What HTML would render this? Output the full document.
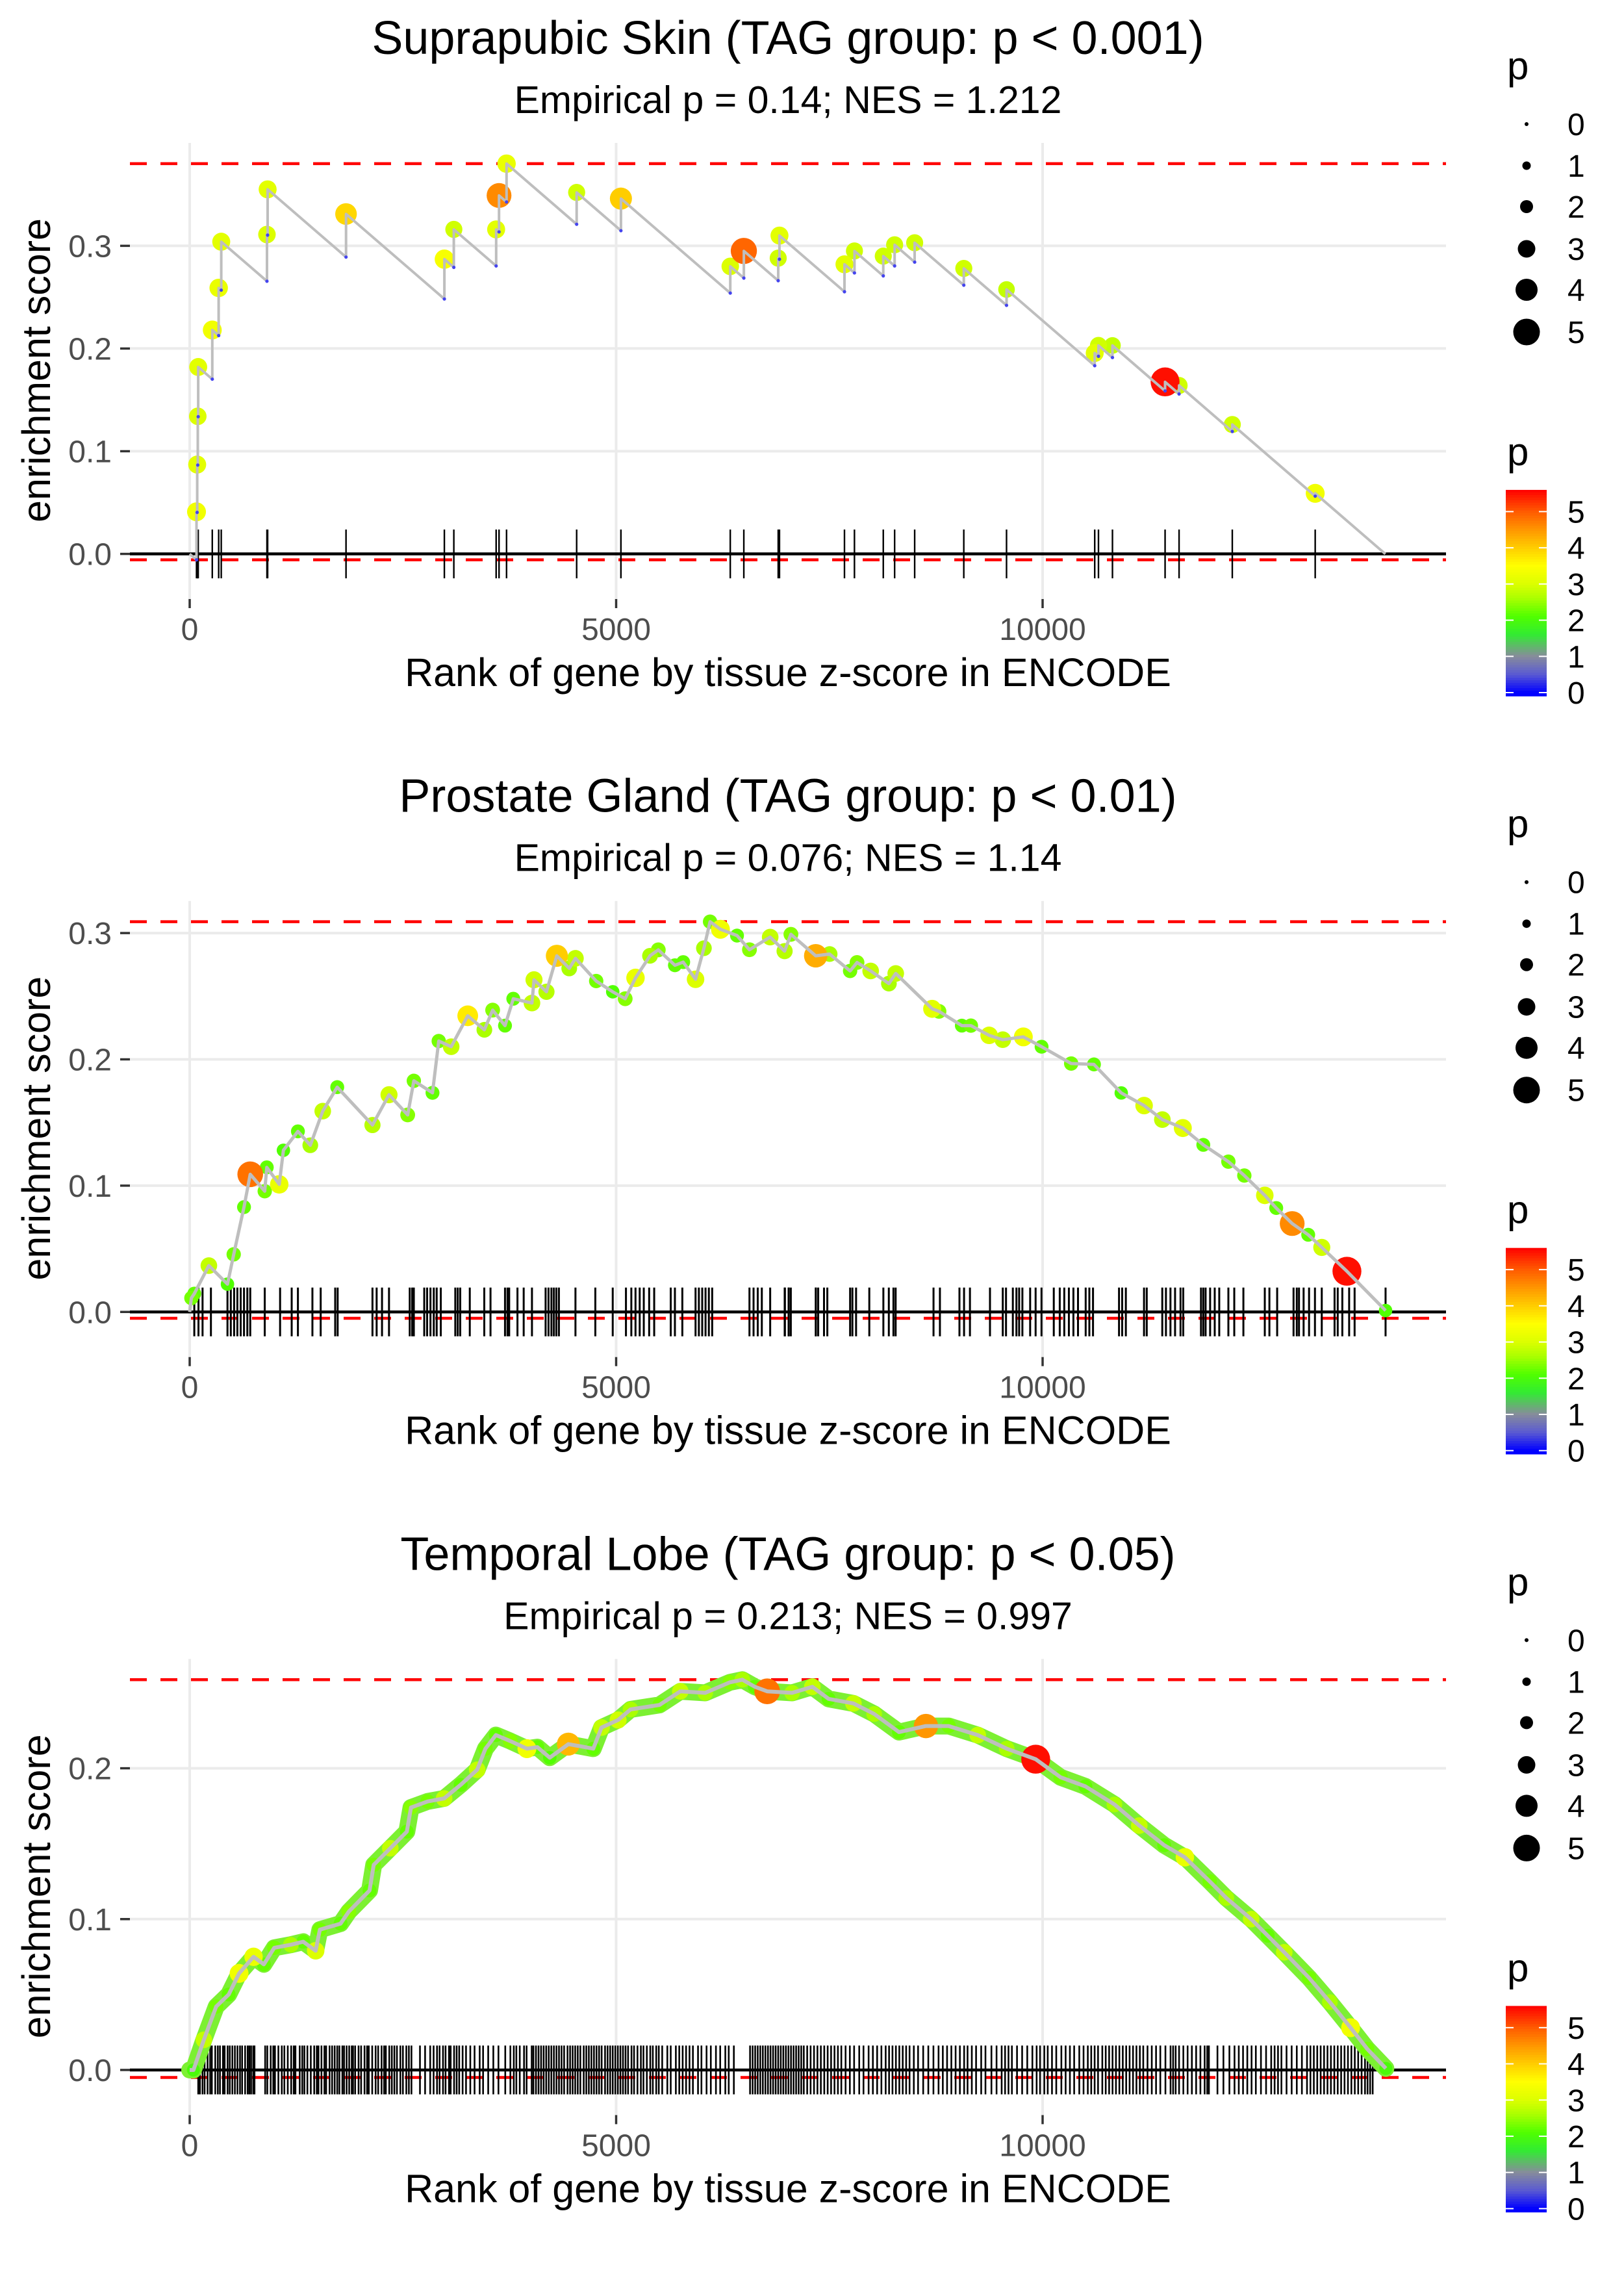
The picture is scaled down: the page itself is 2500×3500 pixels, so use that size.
<!DOCTYPE html>
<html>
<head>
<meta charset="utf-8">
<style>
html,body{margin:0;padding:0;background:#fff;}
svg{display:block;}
text{font-family:"Liberation Sans",Arial,sans-serif;}
</style>
</head>
<body>
<svg id="chart" xmlns="http://www.w3.org/2000/svg" width="2500" height="3500" viewBox="0 0 2500 3500"></svg>
<script>
// ---------- Panel 1: Suprapubic Skin ----------
const p1Rank = [80,88,95,100,265,340,370,906,914,1833,2986,3097,3593,3627,3715,4537,5056,6338,6497,6900,6915,7677,7794,8132,8265,8500,9076,9577,10611,10655,10819,11436,11600,12224,13196];
const p1ES = [0.041,0.087,0.134,0.182,0.218,0.259,0.304,0.311,0.355,0.331,0.287,0.316,0.316,0.349,0.380,0.352,0.346,0.280,0.295,0.288,0.310,0.282,0.295,0.290,0.301,0.303,0.278,0.2575,0.1956,0.203,0.203,0.1675,0.164,0.126,0.059];
const p1P = [3.3,3.1,3.0,3.1,3.3,3.2,3.1,3.0,3.1,3.9,3.4,2.9,3.1,4.6,3.2,2.9,4.0,3.0,4.9,2.9,3.1,3.1,2.9,2.9,2.9,2.9,2.9,2.8,3.1,2.9,2.8,5.5,2.9,2.9,3.3];
const p1End = 14018;

// ---------- Panel 2: Prostate Gland ----------
const p2Rank = [20,54,225,443,516,637,710,880,904,1050,1099,1269,1414,1560,1730,2143,2337,2556,2628,2847,2920,3066,3260,3455,3552,3697,3794,4013,4037,4183,4305,4450,4523,4766,4960,5106,5227,5397,5494,5689,5786,5931,6029,6101,6223,6417,6563,6806,6975,7049,7340,7503,7743,7824,7984,8198,8278,8705,8785,9053,9159,9373,9533,9774,9988,10335,10602,10922,11190,11404,11644,11884,12178,12365,12605,12739,12926,13114,13273,13568,14021];
const p2ES = [0.011,0.0145,0.0367,0.022,0.0456,0.083,0.109,0.0956,0.1145,0.101,0.128,0.143,0.132,0.159,0.178,0.148,0.172,0.156,0.183,0.1735,0.2145,0.210,0.2345,0.2234,0.239,0.2267,0.248,0.2446,0.263,0.2535,0.282,0.272,0.280,0.262,0.2535,0.248,0.2645,0.282,0.2867,0.2745,0.277,0.2634,0.288,0.309,0.303,0.298,0.2868,0.2968,0.2857,0.299,0.282,0.2834,0.270,0.2767,0.270,0.260,0.268,0.240,0.238,0.2267,0.2267,0.219,0.2156,0.2178,0.210,0.1967,0.196,0.1734,0.1634,0.1523,0.1456,0.1323,0.119,0.108,0.0923,0.0823,0.070,0.0611,0.0511,0.0322,0.0011];
const p2P = [2.3,2.2,2.8,2.1,2.3,2.2,4.8,2.3,2.2,3.2,2.1,2.2,2.6,2.8,2.2,2.7,2.9,2.4,2.3,2.2,2.3,2.8,3.7,2.6,2.4,2.2,2.2,2.8,2.9,2.7,4.0,2.6,2.8,2.3,2.1,2.4,3.2,2.6,2.4,2.2,2.2,3.0,2.6,2.3,3.3,2.2,2.4,2.8,2.7,2.4,4.3,2.6,2.3,2.4,2.8,2.6,2.8,3.1,2.4,2.2,2.3,3.0,2.8,3.3,2.2,2.3,2.2,2.1,3.0,2.8,3.1,2.2,2.3,2.3,3.0,2.2,4.6,2.2,2.9,5.5,2.1];
const p2Rug = [54,103,151,249,443,482,521,559,598,637,676,710,880,1060,1196,1269,1439,1536,1706,1735,2143,2192,2255,2337,2580,2609,2628,2750,2784,2823,2862,2896,2944,3114,3143,3172,3284,3454,3527,3697,3726,3746,3843,3916,4013,4173,4207,4241,4270,4299,4329,4523,4756,4960,5115,5178,5227,5276,5324,5387,5446,5640,5689,5776,5931,5970,6009,6048,6087,6126,6563,6611,6660,6708,6806,6976,7024,7048,7340,7437,6979,7022,7342,7369,7476,7743,7770,7813,7968,8133,8197,8251,8277,8721,8796,9025,9079,9148,9383,9533,9571,9651,9693,9725,9763,9854,9918,9987,10131,10201,10254,10308,10361,10415,10505,10548,10591,10896,10933,10976,11189,11221,11403,11446,11499,11553,11617,11649,11857,11884,11911,11964,12018,12071,12178,12247,12354,12605,12659,12750,12942,12980,13006,13060,13124,13193,13273,13423,13460,13514,13594,13658,14021];
const p2MinES = -0.005;

// ---------- Panel 3: Temporal Lobe ----------
const p3Rank = [44,166,311,457,579,749,870,992,1186,1331,1477,1526,1769,1866,2109,2158,2352,2546,2595,2789,2983,3177,3371,3468,3590,3760,3954,4076,4222,4440,4732,4829,5023,5169,5509,5752,6044,6334,6480,6626,6771,7063,7300,7491,7782,8025,8316,8632,8899,9239,9579,9919,10211,10502,10842,11133,11425,11668,11959,12154,12445,12639,12833,13125,13368,13611,13805,14024];
const p3ES = [0.0,0.020,0.042,0.050,0.064,0.075,0.070,0.081,0.083,0.085,0.079,0.093,0.097,0.105,0.119,0.136,0.147,0.158,0.174,0.178,0.180,0.189,0.199,0.213,0.222,0.218,0.213,0.214,0.207,0.216,0.213,0.227,0.232,0.239,0.242,0.251,0.250,0.257,0.2587,0.254,0.251,0.250,0.254,0.246,0.243,0.236,0.224,0.228,0.228,0.222,0.213,0.206,0.194,0.188,0.176,0.162,0.149,0.141,0.125,0.114,0.100,0.089,0.078,0.061,0.045,0.028,0.014,0.001];
const p3P = [2.0,2.8,2.3,2.2,3.3,3.2,2.2,2.3,2.6,2.2,3.0,2.3,2.2,2.4,2.2,2.3,2.8,2.2,2.4,2.3,2.8,2.2,2.8,2.3,2.2,2.4,3.3,2.2,2.1,4.2,2.2,2.8,2.9,2.6,2.3,2.8,2.6,2.4,2.6,2.2,4.8,2.6,2.8,2.2,2.8,2.6,2.2,4.5,2.3,2.8,2.6,5.5,2.3,2.2,2.6,2.8,2.2,3.2,2.3,2.6,2.8,2.2,2.8,2.3,2.6,3.3,2.3,2.0];
const p3Rug = [100,120,150,175,210,240,260,300,330,355,390,410,445,470,500,530,560,590,615,650,680,700,720,745,760,885,910,950,980,1000,1040,1080,1110,1150,1190,1220,1240,1290,1320,1345,1380,1420,1460,1490,1510,1545,1580,1600,1640,1670,1700,1730,1755,1790,1810,1840,1870,1900,1915,1940,1980,2010,2050,2080,2100,2140,2180,2210,2250,2280,2300,2340,2370,2400,2430,2470,2500,2540,2570,2600,2700,2760,2820,2860,2900,2930,2970,3000,3040,3060,3100,3130,3160,3200,3240,3290,3340,3400,3440,3500,3560,3620,3700,3760,3800,3830,3870,3920,3950,4010,4030,4060,4090,4120,4150,4180,4210,4240,4270,4300,4330,4360,4390,4430,4460,4490,4520,4550,4580,4620,4650,4680,4710,4740,4770,4800,4830,4870,4900,4930,4960,4990,5020,5050,5080,5110,5140,5180,5210,5250,5290,5320,5360,5400,5430,5470,5500,5540,5600,5640,5700,5740,5780,5820,5860,5900,5960,6000,6060,6110,6170,6220,6280,6320,6380,6570,6600,6630,6660,6690,6720,6750,6780,6810,6840,6870,6900,6930,6960,6990,7020,7050,7080,7110,7140,7170,7200,7240,7280,7320,7360,7400,7440,7480,7520,7560,7600,7640,7690,7740,7790,7850,7900,7960,8010,8060,8110,8160,8200,8240,8280,8320,8360,8400,8440,8490,8540,8600,8660,8720,8780,8830,8880,8930,8980,9030,9080,9120,9170,9220,9280,9330,9400,9460,9520,9560,9600,9640,9700,9760,9820,9880,9930,9970,10020,10060,10110,10160,10220,10270,10320,10370,10430,10480,10530,10570,10610,10650,10700,10740,10780,10820,10860,10900,10940,10980,11020,11060,11100,11140,11180,11230,11280,11330,11380,11440,11500,11530,11560,11600,11650,11700,11750,11800,11850,11900,11930,11950,12050,12120,12190,12250,12300,12350,12400,12450,12500,12560,12620,12680,12720,12760,12800,12860,12920,12980,13040,13100,13140,13180,13220,13260,13300,13340,13380,13420,13460,13500,13540,13580,13620,13660,13700,13740,13780,13810,13840,13870];
const p3MinES = -0.005;

// ---------- Axis ticks / legend values ----------
const xTickValues = [0, 5000, 10000];
const xTickLabels = ["0", "5000", "10000"];
const yTicks1 = [0, 0.1, 0.2, 0.3];
const yTicks2 = [0, 0.1, 0.2, 0.3];
const yTicks3 = [0, 0.1, 0.2];
const yTickLabels = ["0.0", "0.1", "0.2", "0.3"];
const legendValues = [0, 1, 2, 3, 4, 5];
const titles = ["Suprapubic Skin (TAG group: p < 0.001)", "Prostate Gland (TAG group: p < 0.01)", "Temporal Lobe (TAG group: p < 0.05)"];
const subtitles = ["Empirical p = 0.14; NES = 1.212", "Empirical p = 0.076; NES = 1.14", "Empirical p = 0.213; NES = 0.997"];

const NS = "http://www.w3.org/2000/svg";
const svg = document.getElementById("chart");
function mk(tag, attrs, parent) {
  const e = document.createElementNS(NS, tag);
  for (const k in attrs) e.setAttribute(k, attrs[k]);
  (parent || svg).appendChild(e);
  return e;
}
const colorStops = [[0,[0,0,255]],[0.5,[90,90,210]],[1,[135,140,155]],[1.6,[50,235,50]],[2.1,[80,255,0]],[2.6,[170,255,0]],[3.0,[220,255,0]],[3.5,[255,255,0]],[4.0,[255,205,0]],[4.5,[255,150,0]],[5.0,[255,90,0]],[5.6,[255,0,0]]];
function colorFor(p) {
  if (p <= colorStops[0][0]) return "rgb(" + colorStops[0][1].join(",") + ")";
  for (let i = 1; i < colorStops.length; i++) {
    if (p <= colorStops[i][0]) {
      const a = colorStops[i-1], b = colorStops[i];
      const t = (p - a[0]) / (b[0] - a[0]);
      const c = a[1].map((v, j) => Math.round(v + (b[1][j] - v) * t));
      return "rgb(" + c.join(",") + ")";
    }
  }
  return "rgb(255,0,0)";
}
function rFor(p) { return 3 + 3.5 * p; }

const X0 = 292, XPU = 0.1313, PX_L = 200, PX_R = 2226, PANEL_H = 702, PANEL_STEP = 1166.7;
function xScale(rank) { return X0 + rank * XPU; }

function drawPanel(k, ranks, es, ps, rug, yTicks, mode, minES, endRank) {
  const off = k * PANEL_STEP;
  const T = 220 + off;
  const g = mk("g", {});
  
  

  let verts = [], troughs = [];
  if (mode === "step") {
    let prevR = 0, prevE = 0;
    const d = es[es.length - 1] / (endRank - ranks[ranks.length - 1]);
    verts.push([0, 0]);
    for (let i = 0; i < ranks.length; i++) {
      const pre = prevE - (ranks[i] - prevR) * d;
      verts.push([ranks[i], pre]);
      verts.push([ranks[i], es[i]]);
      troughs.push([ranks[i], pre]);
      prevR = ranks[i]; prevE = es[i];
    }
    verts.push([endRank, 0]);
    minES = Math.min.apply(null, troughs.map(t => t[1]));
  } else {
    verts.push([0, 0]);
    for (let i = 0; i < ranks.length; i++) verts.push([ranks[i], es[i]]);
  }
  const maxES = Math.max.apply(null, es);
  const rugH = maxES / 16;
  const ppu = PANEL_H / (1.1 * (maxES + rugH));
  const zeroY = T + PANEL_H - (0.05 * (maxES + rugH) + rugH) * ppu;
  function yScale(v) { return zeroY - v * ppu; }

  const t1 = mk("text", {x: 1213, y: 83 + off, "font-size": 72, "text-anchor": "middle", fill: "#000"}, g);
  t1.textContent = titles[k];
  
  
  const t2 = mk("text", {x: 1213, y: 174 + off, "font-size": 59, "text-anchor": "middle", fill: "#000"}, g);
  t2.textContent = subtitles[k];
  
  

  yTicks.forEach((v, i) => {
    const y = yScale(v);
    const gl = mk("line", {x1: PX_L, x2: PX_R, y1: y, y2: y, stroke: "#ebebeb", "stroke-width": 4}, g);
    
    
    const tk = mk("line", {x1: 185, x2: 200, y1: y, y2: y, stroke: "#333", "stroke-width": 3.5}, g);
    
    
    const tl = mk("text", {x: 172, y: y + 17, "font-size": 48, "text-anchor": "end", fill: "#4d4d4d"}, g);
    tl.textContent = yTickLabels[i];
    
    
  });
  xTickValues.forEach((v, i) => {
    const x = xScale(v);
    const gl = mk("line", {x1: x, x2: x, y1: T, y2: T + PANEL_H, stroke: "#ebebeb", "stroke-width": 4}, g);
    
    
    const tk = mk("line", {x1: x, x2: x, y1: T + PANEL_H, y2: T + PANEL_H + 14, stroke: "#333", "stroke-width": 3.5}, g);
    
    
    const tl = mk("text", {x: x, y: 985 + off, "font-size": 48, "text-anchor": "middle", fill: "#4d4d4d"}, g);
    tl.textContent = xTickLabels[i];
    
    
  });

  const xt = mk("text", {x: 1213, y: 1056 + off, "font-size": 61, "text-anchor": "middle", fill: "#000"}, g);
  xt.textContent = "Rank of gene by tissue z-score in ENCODE";
  
  
  const yt = mk("text", {x: 0, y: 0, "font-size": 61, "text-anchor": "middle", fill: "#000", transform: "translate(77," + (570 + off) + ") rotate(-90)"}, g);
  yt.textContent = "enrichment score";
  
  

  [maxES, minES].forEach((v, i) => {
    const y = yScale(v);
    const dl = mk("line", {x1: PX_L, x2: PX_R, y1: y, y2: y, stroke: "#ff0000", "stroke-width": 4.5, "stroke-dasharray": "26 21"}, g);
    
    
  });

  const rugG = mk("g", {}, g);
  
  
  rug.forEach(r => {
    const x = xScale(r);
    const l = mk("line", {x1: x, x2: x, y1: yScale(rugH), y2: yScale(-rugH), stroke: "#000", "stroke-width": mode === "dense" ? 2.6 : (mode === "line" ? 3 : 2.4)}, rugG);
    
    
  });

  const zl = mk("line", {x1: PX_L, x2: PX_R, y1: zeroY, y2: zeroY, stroke: "#000", "stroke-width": 4.5}, g);
  
  

  const ptsStr = verts.map(v => xScale(v[0]).toFixed(1) + "," + yScale(v[1]).toFixed(1)).join(" ");

  if (mode === "dense") {
    const halo = mk("polyline", {points: ptsStr, fill: "none", stroke: "#7cf032", "stroke-width": 26, "stroke-linejoin": "round", "stroke-linecap": "round"}, g);
    
    
  }

  const ptG = mk("g", {}, g);
  
  
  const order = ranks.map((r, i) => i).sort((a, b) => ps[a] - ps[b]);
  order.forEach(i => {
    const c = mk("circle", {cx: xScale(ranks[i]), cy: yScale(es[i]), r: rFor(ps[i]), fill: colorFor(ps[i])}, ptG);
    
    
  });

  const pl = mk("polyline", {points: ptsStr, fill: "none", stroke: "#bebebe", "stroke-width": mode === "dense" ? 6 : (mode === "line" ? 5 : 4), "stroke-linejoin": "round"}, g);
  
  

  troughs.forEach(t => {
    const c = mk("circle", {cx: xScale(t[0]), cy: yScale(t[1]), r: 2.6, fill: "#4444ee"}, g);
    
    
  });

  const lg = mk("g", {}, g);
  
  
  const lt = mk("text", {x: 2320, y: 122 + off, "font-size": 60, fill: "#000"}, lg);
  lt.textContent = "p";
  
  
  const rowY = [191, 255, 318, 383, 446, 511];
  legendValues.forEach((v, i) => {
    const c = mk("circle", {cx: 2350, cy: rowY[i] + off, r: rFor(v), fill: "#000"}, lg);
    
    
    const tx = mk("text", {x: 2413, y: rowY[i] + off + 17, "font-size": 48, fill: "#000"}, lg);
    tx.textContent = String(v);
    
    
  });

  const cg = mk("g", {}, g);
  
  
  const ct = mk("text", {x: 2320, y: 716 + off, "font-size": 60, fill: "#000"}, cg);
  ct.textContent = "p";
  
  
  const barTop = 754 + off, barBot = 1071 + off, vTop = 5.6, vBot = -0.09;
  const nSeg = 80;
  for (let s = 0; s < nSeg; s++) {
    const v = vTop - (vTop - vBot) * (s + 0.5) / nSeg;
    const y = barTop + (barBot - barTop) * s / nSeg;
    const rr = mk("rect", {x: 2318, y: y, width: 63, height: (barBot - barTop) / nSeg + 0.8, fill: colorFor(v)}, cg);
    
    
  }
  legendValues.forEach(v => {
    const y = barTop + (vTop - v) / (vTop - vBot) * (barBot - barTop);
    const a = mk("line", {x1: 2318, x2: 2330, y1: y, y2: y, stroke: "#fff", "stroke-width": 2}, cg);
    
    
    const b = mk("line", {x1: 2369, x2: 2381, y1: y, y2: y, stroke: "#fff", "stroke-width": 2}, cg);
    
    
    const tx = mk("text", {x: 2413, y: y + 17, "font-size": 48, fill: "#000"}, cg);
    tx.textContent = String(v);
    
    
  });
}

drawPanel(0, p1Rank, p1ES, p1P, p1Rank, yTicks1, "step", 0, p1End);
drawPanel(1, p2Rank, p2ES, p2P, p2Rug, yTicks2, "line", p2MinES, 0);
drawPanel(2, p3Rank, p3ES, p3P, p3Rug, yTicks3, "dense", p3MinES, 0);
</script>
</body>
</html>
